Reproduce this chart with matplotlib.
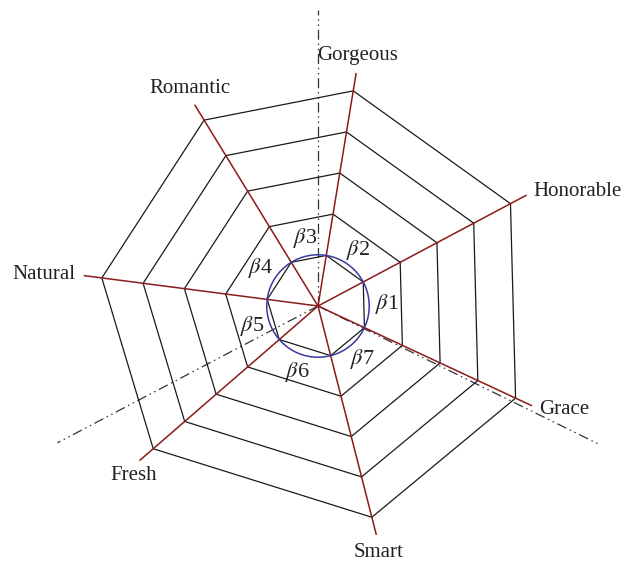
import numpy as np
import matplotlib
matplotlib.use("Agg")
import matplotlib.pyplot as plt

plt.rcParams['font.family'] = ['Liberation Serif', 'DejaVu Serif']
plt.rcParams['mathtext.fontset'] = 'stix'

# Axes of the web (angle in degrees, counter-clockwise from east)
axis_names = ['Honorable', 'Gorgeous', 'Romantic', 'Natural', 'Fresh', 'Smart', 'Grace']
axis_angles = [28.0, 80.7, 121.5, 172.6, 220.9, 284.3, 335.0]

# Concentric heptagons, as a fraction of the outer radius
ring_levels = [0.235, 0.427, 0.618, 0.809, 1.0]

# Sector labels (beta1 sits between Grace and Honorable, then counter-clockwise)
beta_labels = [r'$\beta$1', r'$\beta$2', r'$\beta$3', r'$\beta$4',
               r'$\beta$5', r'$\beta$6', r'$\beta$7']

# Dash-dot reference rays from the centre (angle, length as fraction of outer radius)
ref_angles = [90.0, 333.8, 207.7]
ref_lengths = [1.36, 1.44, 1.35]

R = 218          # outer radius in pixels
CX, CY = 318, 306  # centre of the web in the 636x564 picture

fig = plt.figure(figsize=(6.36, 5.64), dpi=100)
ax = fig.add_axes([0, 0, 1, 1])
ax.set_xlim(-CX, 636 - CX)
ax.set_ylim(-(564 - CY), CY)
ax.set_aspect('equal')
ax.axis('off')

th = np.radians(axis_angles)

# dash-dot-dot reference lines
for a, l in zip(ref_angles, ref_lengths):
    t = np.radians(a)
    ax.plot([0, l * R * np.cos(t)], [0, l * R * np.sin(t)],
            color='#333333', lw=0.9, linestyle=(0, (8, 3, 1.2, 3, 1.2, 3)), zorder=1)

# heptagon rings
for lev in ring_levels:
    xs = lev * R * np.cos(th)
    ys = lev * R * np.sin(th)
    ax.plot(np.append(xs, xs[0]), np.append(ys, ys[0]), color='#1a1a1a', lw=0.9, zorder=2)

# red axes
for t in th:
    ax.plot([0, 1.08 * R * np.cos(t)], [0, 1.08 * R * np.sin(t)],
            color='#8b1a1a', lw=1.1, zorder=3)

# blue circle
circ = plt.Circle((0, 0), ring_levels[0] * R, fill=False, color='#3a3a9e', lw=1.1, zorder=4)
ax.add_patch(circ)

# axis labels
for name, a in zip(axis_names, axis_angles):
    t = np.radians(a)
    c, s = np.cos(t), np.sin(t)
    if abs(c) > 0.8:
        ha = 'left' if c > 0 else 'right'
        va = 'center'
        r = 1.12 * R
    else:
        ha = 'center'
        va = 'bottom' if s > 0 else 'top'
        r = 1.12 * R
    ax.text(r * c, r * s, name, ha=ha, va=va, fontsize=15, color='#222222')

# sector labels on the bisectors
order = [6, 0, 1, 2, 3, 4, 5, 6]
for i, lab in enumerate(beta_labels):
    a1 = axis_angles[order[i]]
    a2 = axis_angles[order[i + 1]]
    if a2 < a1:
        a2 += 360
    if i == 0:
        a1 -= 360
        a2 = axis_angles[0]
    mid = np.radians((a1 + a2) / 2)
    ax.text(69 * np.cos(mid), 69 * np.sin(mid), lab, ha='center', va='center',
            fontsize=16, color='#222222')

fig.savefig('out.png', dpi=100)
